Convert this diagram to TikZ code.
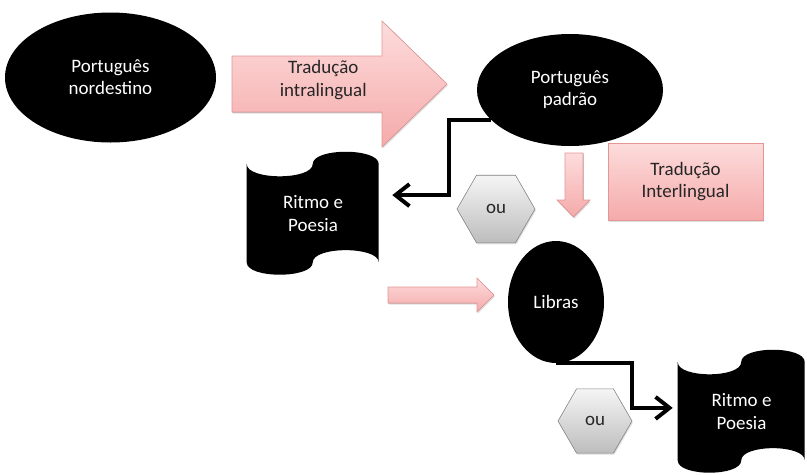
\documentclass[tikz,border=0pt]{standalone}
\usepackage{fontspec}
\setmainfont{Carlito}
\usetikzlibrary{shapes.geometric,arrows.meta,shadows,backgrounds}
\definecolor{pinktop}{HTML}{FDDCDC}
\definecolor{pinkbot}{HTML}{F5AAAA}
\definecolor{pinkline}{HTML}{E39696}
\definecolor{greytop}{HTML}{F5F5F5}
\definecolor{greybot}{HTML}{BDBDBD}
\definecolor{ink}{HTML}{262626}
% black wave (punched tape) behind a node
\newcommand{\wavefill}[3]{%
  \begin{scope}[shift={(#1.north west)},x=#2,y=-#3]
    \fill (0,.1) .. controls (0,.233) and (.5,.233) .. (.5,.1)
      .. controls (.5,-.033) and (1,-.033) .. (1,.1) -- (1,.9)
      .. controls (1,.767) and (.5,.767) .. (.5,.9)
      .. controls (.5,1.033) and (0,1.033) .. (0,.9) -- cycle;
  \end{scope}}

\begin{document}
\begin{tikzpicture}[
    every node/.append style={font=\fontsize{13.5}{15.8}\selectfont},
    blob/.style={ellipse,fill=black,text=white,align=center,inner sep=0pt},
    scroll/.style={rectangle,text=white,align=center,inner sep=0pt,minimum height=3.075cm},
    pinkshape/.style={top color=pinktop,bottom color=pinkbot,draw=pinkline,
      drop shadow={opacity=0.25,shadow xshift=0.6pt,shadow yshift=-1.2pt}},
    hexa/.style={regular polygon,regular polygon sides=6,inner sep=0pt,
      top color=greytop,bottom color=greybot,draw=gray,text=ink,
      drop shadow={opacity=0.25,shadow xshift=0.6pt,shadow yshift=-1.2pt}},
    link/.style={line width=2.8pt,-{Straight Barb[length=3.5mm,width=5.5mm]}}
  ]
  \useasboundingbox (0,0) rectangle (20.175,-11.85);
  \node[blob,minimum width=5.275cm,minimum height=3.25cm] (N) at (2.7625,-1.9375) {Português\\nordestino};
  \filldraw[pinkshape] (5.8,-1.4) -- (9.55,-1.4) -- (9.55,-0.525) -- (11.175,-2.1)
    -- (9.55,-3.675) -- (9.55,-2.8) -- (5.8,-2.8) -- cycle;
  \node[text=ink,align=center] (T1) at (8.08,-2.0) {Tradução\\intralingual};
  \node[blob,minimum width=4.65cm,minimum height=2.8cm] (P) at (14.25,-2.25) {Português\\padrão};
  \filldraw[pinkshape] (14.125,-3.825) -- (14.575,-3.825) -- (14.575,-5.0) -- (14.75,-5.0)
    -- (14.3375,-5.425) -- (13.925,-5.0) -- (14.125,-5.0) -- cycle;
  \node[pinkshape,rectangle,minimum width=3.875cm,minimum height=1.925cm,text=ink,align=center] (T2)
    at (17.1375,-4.5375) {Tradução\\Interlingual};
  \node[hexa,minimum size=1.95cm] (O1) at (12.4,-5.225) {ou};
  \node[scroll,minimum width=3.3cm] (R1) at (7.825,-5.3375) {Ritmo e\\Poesia};
  \filldraw[pinkshape] (9.7,-7.175) -- (11.925,-7.175) -- (11.925,-6.95) -- (12.35,-7.375)
    -- (11.925,-7.8) -- (11.925,-7.575) -- (9.7,-7.575) -- cycle;
  \node[blob,minimum width=2.4cm,minimum height=3.05cm] (L) at (13.9,-7.55) {Libras};
  \node[hexa,minimum size=1.85cm] (O2) at (14.875,-10.525) {ou};
  \node[scroll,minimum width=3.175cm] (R2) at (18.5375,-10.2875) {Ritmo e\\Poesia};
  \begin{scope}[on background layer]
    \wavefill{R1}{3.3cm}{3.075cm}
    \wavefill{R2}{3.175cm}{3.075cm}
  \end{scope}
  \draw[link] (P.201) -- ++(-1.05,0) |- ([xshift=3.25mm,yshift=4.6mm]R1.east);
  \draw[link] (L.south) -- ++(1.9,0) |- ([xshift=-1.25mm,yshift=.9mm]R2.west);
\end{tikzpicture}
\end{document}
